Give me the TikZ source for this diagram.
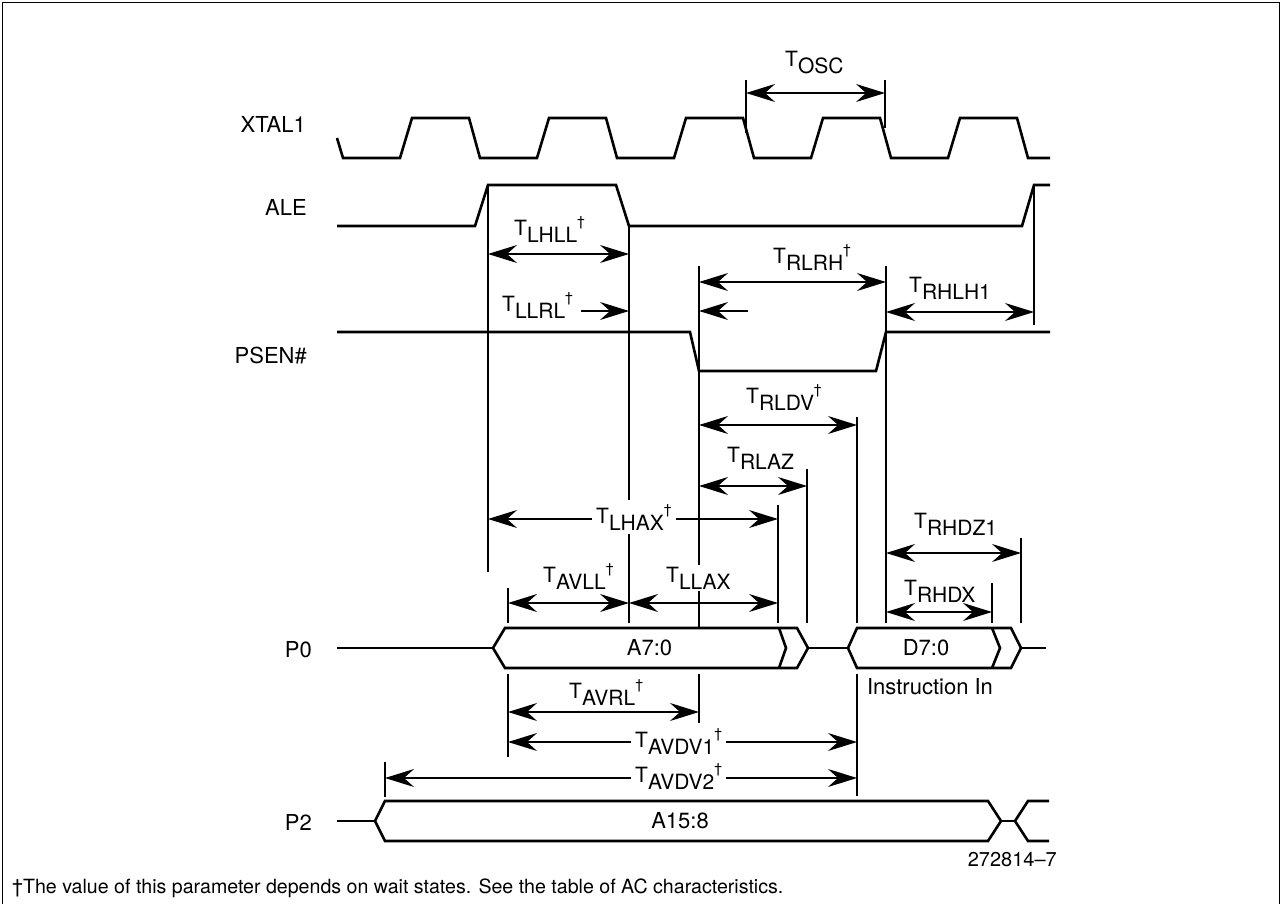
\documentclass[tikz,border=0pt]{standalone}
\usepackage{fontspec}
\setmainfont{TeX Gyre Heros}
\usetikzlibrary{arrows.meta}

\newcommand{\tsub}[1]{T\raisebox{-7pt}{#1}}
\newcommand{\dg}{\raisebox{9pt}{\fontsize{14}{14}\selectfont\textdagger}}

\tikzset{
  wave/.style={line width=2.6pt},
  vline/.style={line width=1.2pt},
  tarrow/.style={line width=1.3pt, {Stealth[length=29pt,width=18pt,inset=10pt]}-{Stealth[length=29pt,width=18pt,inset=10pt]}},
  tone/.style={line width=1.3pt, -{Stealth[length=29pt,width=18pt,inset=10pt]}},
  sig/.style={anchor=base east, inner sep=0pt, font=\fontsize{22}{22}\selectfont},
  tlab/.style={anchor=base west, inner sep=0pt, font=\fontsize{21}{21}\selectfont},
  glab/.style={tlab, fill=white, inner sep=4pt},
  blab/.style={inner sep=0pt, font=\fontsize{22}{22}\selectfont},
}

\begin{document}
\begin{tikzpicture}[x=1pt,y=-1pt]
          \useasboundingbox (0,0) rectangle (1282,904);
          \draw [line width=1.5pt] (2.5,904) -- (2.5,2.5) -- (1279.5,2.5) -- (1279.5,904);

          \node[sig] (xtal) at (306,133) {XTAL1};
          \node[sig] (ale) at (307,215) {ALE};
          \node[sig] (psen) at (307,363) {PSEN\#};
          \node[sig] (pzero) at (312,657) {P0};
          \node[sig] (ptwo) at (312,830) {P2};

          % waveforms
          \draw[wave] (337,138) -- (343,158) foreach \k in {0,...,4} {-- ({400+137*\k},158) -- ({412+137*\k},118) -- ({469+137*\k},118) -- ({480+137*\k},158)} -- (1050,158);
          \draw[wave] (337,226) -- (475,226) -- (488,185) -- (616,185) -- (629,226) -- (1022,226) -- (1034,185) -- (1050,185);
          \draw[wave] (337,332) -- (690,332) -- (699,371) -- (876,371) -- (886,332) -- (1050,332);

          \draw[wave] (337,648) -- (493,648);
          \draw[wave] (493,648) -- (505,628) -- (797,628) -- (808,648) -- (797,668) -- (505,668) -- cycle;
          \draw[wave] (779,628) -- (786,648) -- (779,668);
          \draw[wave] (808,648) -- (848,648);
          \draw[wave] (848,648) -- (857,628) -- (1011,628) -- (1021,648) -- (1011,668) -- (857,668) -- cycle;
          \draw[wave] (992,628) -- (1000,648) -- (992,668);
          \draw[wave] (1021,648) -- (1046,648);

          \draw[wave] (337,821) -- (375,821);
          \draw[wave] (375,821) -- (385,801) -- (988,801) -- (1001,821) -- (988,841) -- (385,841) -- cycle;
          \draw[wave] (1001,821) -- (1015,821);
          \draw[wave] (1049,801) -- (1028,801) -- (1015,821) -- (1028,841) -- (1049,841);

          % edge lines
          \draw[vline] (746,80) -- (746,133);
          \draw[vline] (885,80) -- (885,128);
          \draw[vline] (488,185) -- (488,572);
          \draw[vline] (629,226) -- (629,623);
          \draw[vline] (699,266) -- (699,628);
          \draw[vline] (699,674) -- (699,723);
          \draw[vline] (886,266) -- (886,623);
          \draw[vline] (1034,185) -- (1034,325);
          \draw[vline] (857,417) -- (857,623);
          \draw[vline] (857,674) -- (857,796);
          \draw[vline] (807,469) -- (807,623);
          \draw[vline] (778,505) -- (778,623);
          \draw[vline] (1021,538) -- (1021,623);
          \draw[vline] (992,583) -- (992,623);
          \draw[vline] (508,588) -- (508,623);
          \draw[vline] (508,674) -- (508,757);
          \draw[vline] (385,762) -- (385,797);

          % timing arrows
          \draw[tarrow] (746,93) -- (885,93);
          \draw[tarrow] (488,254) -- (629,254);
          \draw[tone] (581,311) -- (629,311);
          \draw[tone] (748,311) -- (699,311);
          \draw[tarrow] (699,282) -- (886,282);
          \draw[tarrow] (886,312) -- (1034,312);
          \draw[tarrow] (699,425) -- (857,425);
          \draw[tarrow] (699,486) -- (807,486);
          \draw[tarrow] (488,519) -- (778,519);
          \draw[tarrow] (886,553) -- (1021,553);
          \draw[tarrow] (508,603) -- (629,603);
          \draw[tarrow] (629,603) -- (778,603);
          \draw[tarrow] (886,612) -- (992,612);
          \draw[tarrow] (508,712) -- (699,712);
          \draw[tarrow] (508,742) -- (857,742);
          \draw[tarrow] (385,778) -- (857,778);

          \node[tlab] (tosc) at (785,67) {\tsub{OSC}};
          \node[tlab] (tlhll) at (514,235) {\tsub{LHLL}\dg};
          \node[tlab] (tllrl) at (502,311) {\tsub{LLRL}\dg};
          \node[tlab] (trlrh) at (773,263) {\tsub{RLRH}\dg};
          \node[tlab] (trhlh) at (909,292) {\tsub{RHLH1}};
          \node[tlab] (trldv) at (746,403) {\tsub{RLDV}\dg};
          \node[tlab] (trlaz) at (727,462) {\tsub{RLAZ}};
          \node[glab] (tlhax) at (592,523) {\tsub{LHAX}\dg};
          \node[tlab] (trhdz) at (914,528) {\tsub{RHDZ1}};
          \node[tlab] (tavll) at (543,582) {\tsub{AVLL}\dg};
          \node[glab, inner sep=2pt] (tllax) at (664,582) {\tsub{LLAX}};
          \node[tlab] (trhdx) at (904,595) {\tsub{RHDX}};
          \node[tlab] (tavrl) at (569,698) {\tsub{AVRL}\dg};
          \node[glab] (tavdva) at (631,747) {\tsub{AVDV1}\dg};
          \node[glab] (tavdvb) at (631,782) {\tsub{AVDV2}\dg};

          \node[blab] (addr) at (649.5,648) {A7:0};
          \node[blab] (data) at (926,648) {D7:0};
          \node[blab] (instr) at (930,687) {Instruction In};
          \node[blab] (addrhi) at (680,821) {A15:8};

          \node[anchor=base east, inner sep=0pt, font=\fontsize{20}{20}\selectfont] (fignum) at (1057,866) {272814–7};
          \node[anchor=base west, inner sep=0pt, font=\fontsize{19.6}{20}\selectfont] (note) at (12,893) {\textdagger The value of this parameter depends on wait states. See the table of AC characteristics.};

        \end{tikzpicture}
\end{document}
